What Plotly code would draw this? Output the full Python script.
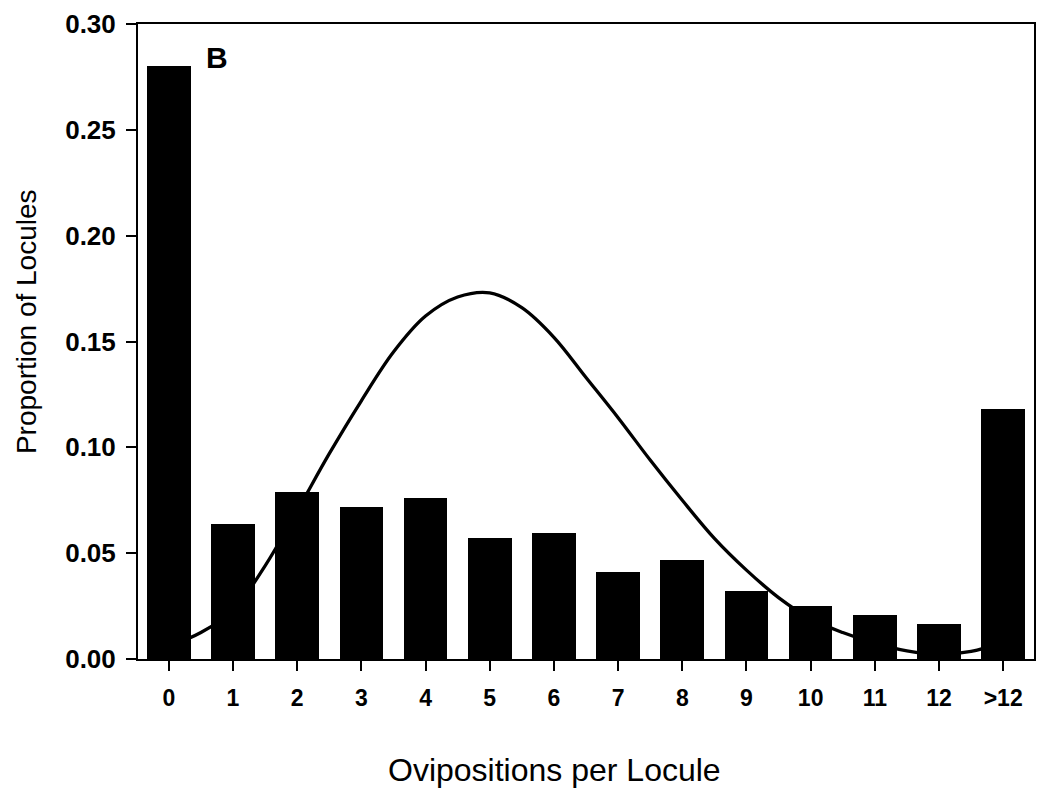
import plotly.graph_objects as go

# Ovipositions per locule (categories) and observed proportions of locules
categories = ["0", "1", "2", "3", "4", "5", "6", "7", "8", "9", "10", "11", "12", ">12"]
observed = [0.280, 0.064, 0.079, 0.072, 0.076, 0.057, 0.0595, 0.041, 0.047,
            0.032, 0.025, 0.021, 0.0165, 0.118]

# Fitted (expected) curve, sampled every half category
curve_x = [0.0, 0.5, 1.0, 1.5, 2.0, 2.5, 3.0, 3.5, 4.0, 4.5, 5.0, 5.5, 6.0,
           6.5, 7.0, 7.5, 8.0, 8.5, 9.0, 9.5, 10.0, 10.5, 11.0, 11.5, 12.0,
           12.5, 13.0]
curve_y = [0.006, 0.0125, 0.023, 0.044, 0.070, 0.097, 0.122, 0.145, 0.162,
           0.171, 0.173, 0.166, 0.152, 0.133, 0.114, 0.094, 0.075, 0.057,
           0.042, 0.029, 0.019, 0.0125, 0.0075, 0.0038, 0.0022, 0.0036,
           0.008]

y_ticks = [0.00, 0.05, 0.10, 0.15, 0.20, 0.25, 0.30]

FONT = "Liberation Sans, Arial, Helvetica, sans-serif"
positions = list(range(len(categories)))
x_range = [-0.48, len(categories) - 0.52]
y_range = [0, 0.30]

fig = go.Figure()

# Fitted curve on the base axes (drawn underneath the bars)
fig.add_trace(go.Scatter(
    x=curve_x, y=curve_y, mode="lines",
    line=dict(color="black", width=3.3, shape="spline", smoothing=1.0),
    xaxis="x", yaxis="y", hoverinfo="skip", showlegend=False,
))

# Observed bars on an overlaying pair of axes so they sit above the curve
fig.add_trace(go.Bar(
    x=positions, y=observed, width=0.68,
    marker=dict(color="black", line=dict(width=0)),
    xaxis="x2", yaxis="y2", showlegend=False,
))

fig.update_layout(
    width=1040, height=792,
    margin=dict(l=138, r=4, t=24, b=133),
    paper_bgcolor="white", plot_bgcolor="white",
    font=dict(family=FONT, color="black"),
    xaxis=dict(
        range=x_range, tickvals=positions, ticktext=categories,
        showgrid=False, zeroline=False,
        showline=True, linecolor="black", linewidth=2, mirror=True,
        ticks="outside", ticklen=10, tickwidth=2, tickcolor="black",
        tickfont=dict(family=FONT, size=23, weight="bold"),
        ticklabelstandoff=7,
    ),
    yaxis=dict(
        range=y_range, tickvals=y_ticks, tickformat=".2f",
        showgrid=False, zeroline=False,
        showline=True, linecolor="black", linewidth=2, mirror=True,
        ticks="outside", ticklen=10, tickwidth=2, tickcolor="black",
        tickfont=dict(family=FONT, size=26, weight="bold"),
        ticklabelstandoff=5,
    ),
    xaxis2=dict(range=x_range, overlaying="x", visible=False),
    yaxis2=dict(range=y_range, overlaying="y", visible=False),
    bargap=0,
    annotations=[
        dict(text="B", x=0.75, y=0.284, xref="x", yref="y",
             xanchor="center", yanchor="middle",
             showarrow=False, font=dict(family=FONT, size=30, weight="bold")),
        dict(text="Ovipositions per Locule", x=0.465, y=-0.175,
             xref="paper", yref="paper", xanchor="center", yanchor="middle",
             showarrow=False, font=dict(family=FONT, size=32)),
        dict(text="Proportion of Locules", x=-0.1236, y=0.531,
             xref="paper", yref="paper", xanchor="center", yanchor="middle",
             showarrow=False, textangle=-90,
             font=dict(family=FONT, size=28)),
    ],
)

fig.write_html("out.html")
